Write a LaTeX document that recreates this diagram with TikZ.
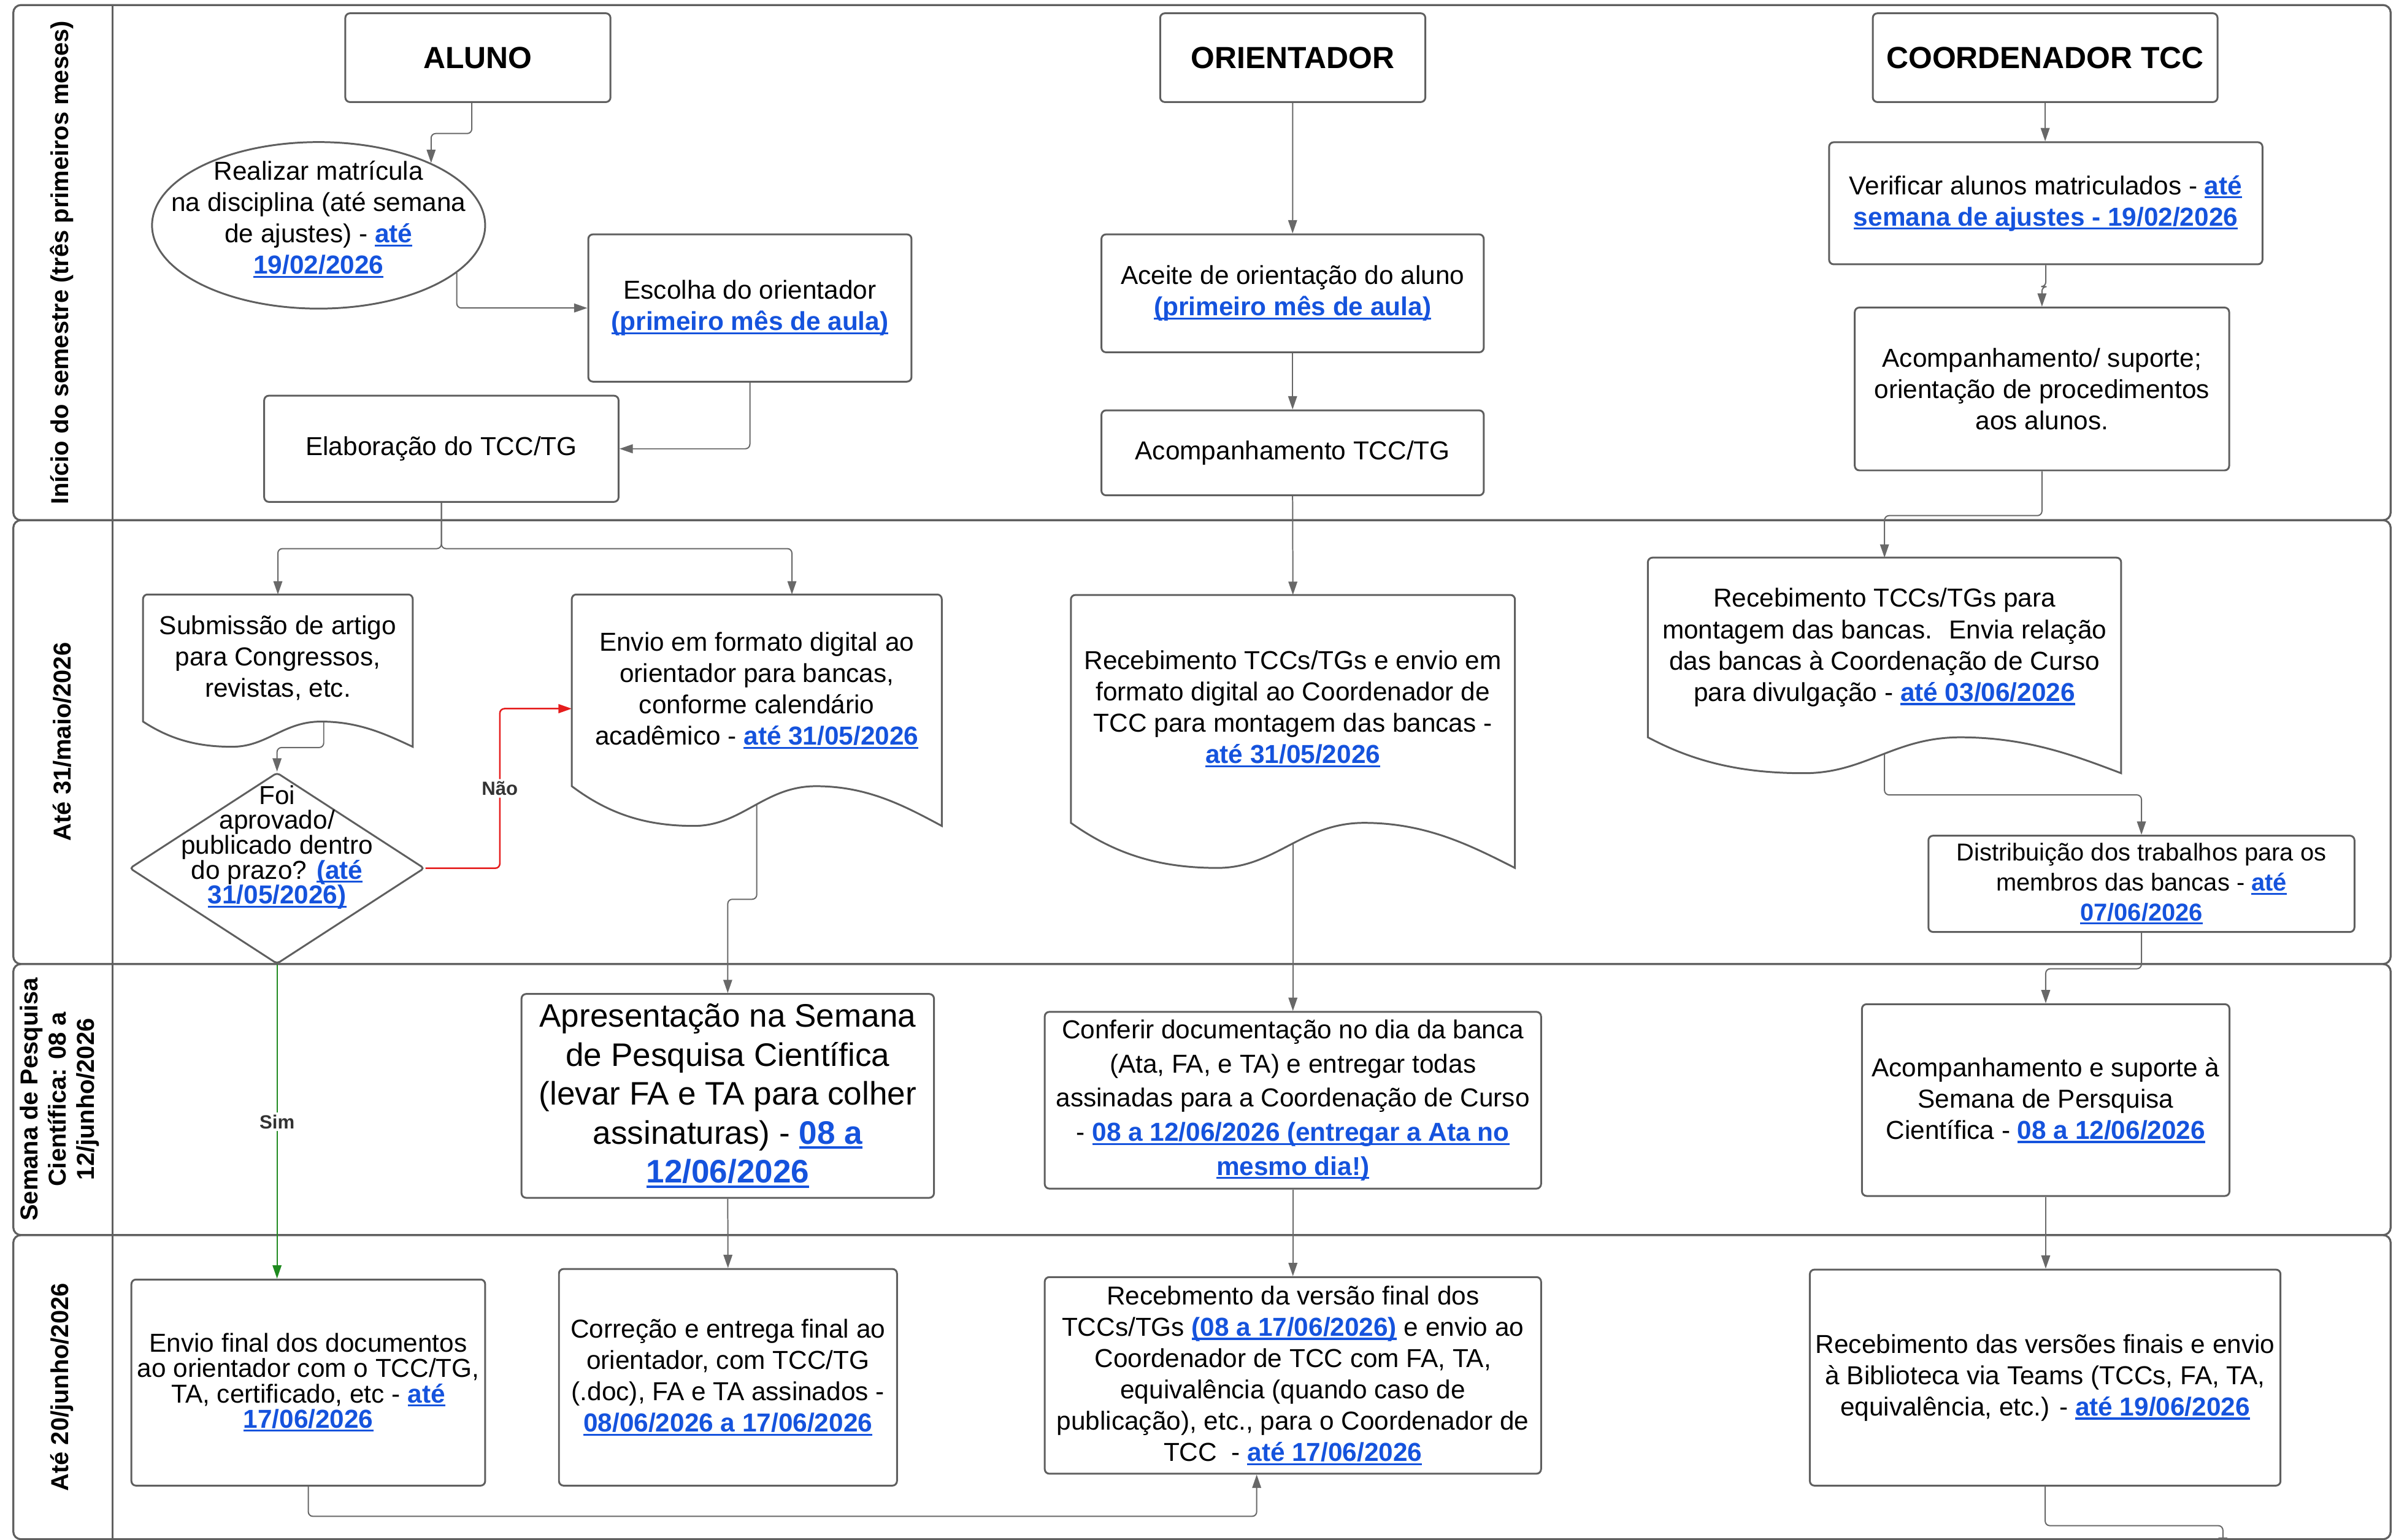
\documentclass[tikz,border=0pt]{standalone}
\usepackage{fontspec}
\setmainfont{Liberation Sans}
\usetikzlibrary{arrows.meta, calc, positioning, shapes.geometric}

\definecolor{linegray}{HTML}{5F5F5F}
\definecolor{flowgray}{HTML}{686868}
\definecolor{linkblue}{HTML}{1553DD}
\definecolor{naored}{HTML}{E51C1C}
\definecolor{simgreen}{HTML}{1E8A1E}
\definecolor{lblgray}{HTML}{333333}

\newcommand\bodyfont{\fontsize{17}{20.5}\selectfont}
% blue underlined date
\newcommand\lnk[1]{{\color{linkblue}\bfseries\setbox0\hbox{#1}\rlap{\rule[-0.15em]{\wd0}{0.075em}}\box0}}

\pgfdeclarelayer{lanes}
\pgfdeclarelayer{links}
\pgfdeclarelayer{docs}
\pgfsetlayers{lanes,links,docs,main}

% document outline round a node: name, wave depth
\newcommand\docwave[2]{%
  \begin{pgfonlayer}{docs}
  \draw[docline] (#1.south west) [rounded corners=3pt] -- (#1.north west) -- (#1.north east) [sharp corners] -- ($(#1.south east)+(0,#2)$)
    .. controls ($(#1.south west)!0.9!(#1.south east)+(0,0.5*#2)$) and ($(#1.south west)!0.8!(#1.south east)$) .. ($(#1.south west)!0.66!(#1.south east)$)
    .. controls ($(#1.south west)!0.52!(#1.south east)$) and ($(#1.south west)!0.46!(#1.south east)+(0,#2)$) .. ($(#1.south west)!0.33!(#1.south east)+(0,#2)$)
    .. controls ($(#1.south west)!0.2!(#1.south east)+(0,#2)$) and ($(#1.south west)!0.1!(#1.south east)+(0,0.7*#2)$) .. (#1.south west) -- cycle;
  \end{pgfonlayer}}

\begin{document}
\begin{tikzpicture}[x=1pt, y=-1pt,
    box/.style={draw=linegray, line width=1.2pt, rounded corners=3pt, fill=white, align=center, inner sep=0pt, font=\bodyfont},
    head/.style={box, font=\bfseries\fontsize{20}{24}\selectfont},
    doc/.style={align=center, inner sep=0pt, line width=1.2pt, font=\bodyfont},
    docline/.style={draw=linegray, line width=1.2pt, fill=white},
    flow/.style={draw=flowgray, line width=0.8pt, rounded corners=3pt, -{Triangle[length=8.7pt, width=5.8pt]}},
    lane/.style={draw=linegray, line width=1.3pt, rounded corners=5pt},
    lanelbl/.style={rotate=90, align=center, font=\bfseries\fontsize{16}{18.5}\selectfont},
    lbl/.style={fill=white, inner sep=1.5pt, text=lblgray, font=\bfseries\fontsize{12.5}{14}\selectfont}
]
\useasboundingbox (0,0) rectangle (1568,1008);

% Raias
\begin{pgfonlayer}{lanes}
\draw[lane] (8.7,3.3) rectangle (1564.5,340.5);
\draw[lane] (8.7,340.5) rectangle (1564.5,631);
\draw[lane] (8.7,631) rectangle (1564.5,808.4);
\draw[lane] (8.7,808.4) rectangle (1564.5,1007.5);
\draw[draw=linegray, line width=1.3pt] (73.6,3.3) -- (73.6,1007.5);
\end{pgfonlayer}
\node[lanelbl] (lane1) at (40.5,172) {Início do semestre (três primeiros meses)};
\node[lanelbl] (lane2) at (40.5,485.5) {Até 31/maio/2026};
\node[lanelbl] (lane3) at (39,719.5) {Semana de Pesquisa\\Científica: 08 a\\12/junho/2026};
\node[lanelbl] (lane4) at (40.5,908) {Até 20/junho/2026};

% Cabecalhos
\node[head, minimum width=173.5pt, minimum height=58.1pt] (aluno) at (312.75,37.75) {ALUNO};
\node[head, minimum width=173.5pt, minimum height=58.1pt] (orient) at (846,37.75) {ORIENTADOR};
\node[head, minimum width=225.6pt, minimum height=58.1pt] (coord) at (1338.4,37.75) {COORDENADOR TCC};

% Inicio do semestre
\node[draw=linegray, line width=1.2pt, ellipse, minimum width=218pt, minimum height=109pt, inner sep=0pt] (matricula) at (208.5,147.5) {};
\node[align=center, font=\bodyfont] (matriculatxt) at (208.5,143.5) {Realizar matrícula\\na disciplina (até semana\\de ajustes) - \lnk{até}\\\lnk{19/02/2026}};
\node[box, minimum width=211.5pt, minimum height=96.4pt] (escolha) at (490.75,201.6) {Escolha do orientador\\\lnk{(primeiro mês de aula)}};
\node[box, minimum width=231.9pt, minimum height=69.5pt] (elab) at (288.85,293.75) {Elaboração do TCC/TG};
\node[box, minimum width=250.2pt, minimum height=77.2pt] (aceite) at (845.9,192) {Aceite de orientação do aluno\\\lnk{(primeiro mês de aula)}};
\node[box, minimum width=250.2pt, minimum height=55.6pt] (acomptcc) at (845.9,296.4) {Acompanhamento TCC/TG};
\node[box, minimum width=283.6pt, minimum height=79.9pt] (verif) at (1338.8,133.05) {Verificar alunos matriculados - \lnk{até}\\\lnk{semana de ajustes - 19/02/2026}};
\node[box, minimum width=245pt, minimum height=106.6pt] (acompsup) at (1336.3,254.6) {Acompanhamento/ suporte;\\orientação de procedimentos\\aos alunos.};

% Ate 31/maio
\node[doc, minimum width=175.3pt, minimum height=82pt] (subm) at (181.85,430.7) {Submissão de artigo\\para Congressos,\\revistas, etc.};
\docwave{subm}{16.5}
\node[doc, minimum width=240.9pt, minimum height=124.3pt] (envio) at (495.25,451.85) {Envio em formato digital ao\\orientador para bancas,\\conforme calendário\\acadêmico - \lnk{até 31/05/2026}};
\docwave{envio}{26}
\node[draw=linegray, line width=1.2pt, diamond, rounded corners=2pt, fill=white, minimum width=193pt, minimum height=125.3pt, inner sep=0pt] (dec) at (181.3,568.3) {};
\node[align=center, font=\fontsize{17}{16.3}\selectfont] (dectxt) at (181.3,554.6) {Foi\\aprovado/\\publicado dentro\\do prazo? \lnk{(até}\\\lnk{31/05/2026)}};
\node[doc, minimum width=289.4pt, minimum height=148pt] (rectcc) at (846.1,464) {Recebimento TCCs/TGs e envio em\\formato digital ao Coordenador de\\TCC para montagem das bancas -\\\lnk{até 31/05/2026}};
\docwave{rectcc}{29.5}
\node[doc, minimum width=308.5pt, minimum height=116.4pt] (recmont) at (1233.25,423.8) {Recebimento TCCs/TGs para\\montagem das bancas.~ Envia relação\\das bancas à Coordenação de Curso\\para divulgação - \lnk{até 03/06/2026}};
\docwave{recmont}{23.5}
\node[box, minimum width=278.8pt, minimum height=63pt, font=\fontsize{16}{19.5}\selectfont] (distrib) at (1401.4,578.5) {Distribuição dos trabalhos para os\\membros das bancas - \lnk{até}\\\lnk{07/06/2026}};

% Semana de Pesquisa
\node[box, minimum width=269.9pt, minimum height=133.4pt, font=\fontsize{21.3}{25.5}\selectfont] (apres) at (476.25,717.3) {Apresentação na Semana\\de Pesquisa Científica\\(levar FA e TA para colher\\assinaturas) - \lnk{08 a}\\\lnk{12/06/2026}};
\node[box, minimum width=324.8pt, minimum height=115.7pt, font=\fontsize{17}{22.3}\selectfont] (conferir) at (846.1,720.15) {Conferir documentação no dia da banca\\(Ata, FA, e TA) e entregar todas\\assinadas para a Coordenação de Curso\\- \lnk{08 a 12/06/2026 (entregar a Ata no}\\\lnk{mesmo dia!)}};
\node[box, minimum width=240.5pt, minimum height=125.5pt] (acompsem) at (1338.75,720.05) {Acompanhamento e suporte à\\Semana de Persquisa\\Científica - \lnk{08 a 12/06/2026}};

% Ate 20/junho
\node[box, minimum width=231.5pt, minimum height=134.9pt, font=\fontsize{17}{16.5}\selectfont] (envfin) at (201.75,904.95) {Envio final dos documentos\\ao orientador com o TCC/TG,\\TA, certificado, etc - \lnk{até}\\\lnk{17/06/2026}};
\node[box, minimum width=221.2pt, minimum height=141.8pt] (correc) at (476.4,901.5) {Correção e entrega final ao\\orientador, com TCC/TG\\(.doc), FA e TA assinados -\\\lnk{08/06/2026 a 17/06/2026}};
\node[box, minimum width=324.8pt, minimum height=128.7pt] (recfin) at (846.1,900.25) {Recebmento da versão final dos\\TCCs/TGs \lnk{(08 a 17/06/2026)} e envio ao\\Coordenador de TCC com FA, TA,\\equivalência (quando caso de\\publicação), etc., para o Coordenador de\\TCC~ - \lnk{até 17/06/2026}};
\node[box, minimum width=308pt, minimum height=141.4pt] (recver) at (1338.4,901.7) {Recebimento das versões finais e envio\\à Biblioteca via Teams (TCCs, FA, TA,\\equivalência, etc.) - \lnk{até 19/06/2026}};
\coordinate (offpage) at (1454.7,1015);

% Ligacoes
\begin{pgfonlayer}{links}
\draw[flow] ([xshift=-4pt]aluno.south) -- ++(0,20) -| (matricula.29);
\draw[flow] (matricula.-19) |- (escolha.west);
\draw[flow] (escolha.south) |- (elab.east);
\draw[flow] (elab.south) -- ++(0,30) -| (subm.north);
\draw[flow] (elab.south) -- ++(0,30) -| ([xshift=23pt]envio.north);
\draw[flow] (orient.south) -- (aceite.north);
\draw[flow] (aceite.south) -- (acomptcc.north);
\draw[flow] (acomptcc.south) -- (rectcc.north);
\draw[flow] (coord.south) -- (coord.south |- verif.north);
\draw[flow] (verif.south) -- ++(0,14) -| (acompsup.north);
\draw[flow] (acompsup.south) -- ++(0,29) -| (recmont.north);
\draw[flow] (recmont.south) -- ++(0,37.7) -| (distrib.north);
\draw[flow] (distrib.south) -- ++(0,23.5) -| (acompsem.north);
\draw[flow] ($(subm.south west)!0.67!(subm.south east)$) -- ++(0,17) -| (dec.north);
\draw[flow, draw=naored, line width=1pt] (dec.east) -- ++(48.7,0) |- node[lbl, pos=0.25] (nao) {Não} ([yshift=-12pt]envio.west);
\draw[flow, draw=simgreen] (dec.south) -- node[lbl] (sim) {Sim} (dec.south |- envfin.north);
\draw[flow] (envio.south) -- ++(0,74) -| (apres.north);
\draw[flow] (rectcc.south) -- (conferir.north);
\draw[flow] (apres.south) -- (correc.north);
\draw[flow] (conferir.south) -- (recfin.north);
\draw[flow] (acompsem.south) -- (acompsem.south |- recver.north);
\draw[flow] (envfin.south) -- ++(0,19.5) -| ([xshift=-23.7pt]recfin.south);
\draw[flow] (recver.south) -- ++(0,25.6) -| (offpage);
\end{pgfonlayer}

\end{tikzpicture}
\end{document}
